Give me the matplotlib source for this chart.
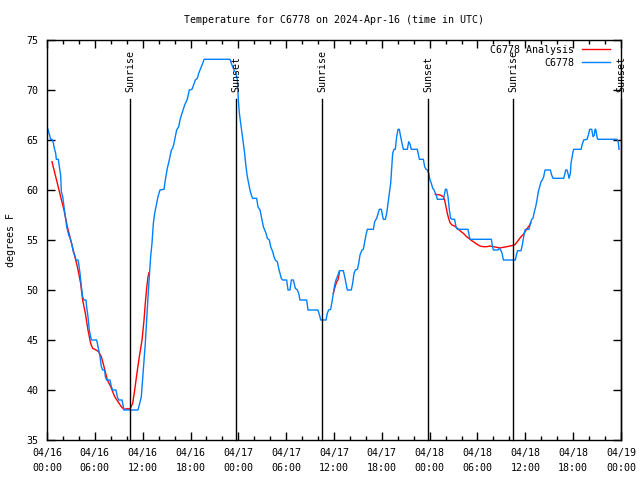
import matplotlib
matplotlib.use("Agg")
import matplotlib.pyplot as plt
import numpy as np

# hours since 2024-04-16 00:00 UTC
obs_hours = [
    0.05, 0.12, 0.46, 0.63, 0.79, 0.92, 1.09, 1.17, 1.42, 1.55, 1.71, 1.8,
    1.97, 2.13, 2.3, 2.47, 2.72, 2.97, 3.14, 3.3, 3.47, 3.64, 3.89, 3.97,
    4.14, 4.31, 4.47, 4.64, 4.89, 4.97, 5.14, 5.31, 5.47, 5.56, 6.23, 6.4,
    6.65, 6.82, 6.98, 7.23, 7.32, 7.48, 7.9, 8.07, 8.24, 8.65, 8.82, 8.99,
    9.41, 9.57, 9.66, 11.41, 11.58, 11.83, 11.99, 12.16, 12.33, 12.5, 12.67,
    12.84, 13.0, 13.17, 13.34, 13.51, 13.67, 13.92, 14.17, 14.68, 14.84,
    15.09, 15.34, 15.6, 15.76, 15.93, 16.1, 16.26, 16.52, 16.68, 16.93,
    17.27, 17.6, 17.85, 18.19, 18.61, 18.86, 19.03, 19.36, 19.53, 19.7,
    22.95, 23.2, 23.46, 23.71, 23.88, 24.0, 24.13, 24.29, 24.46, 24.63,
    24.79, 24.96, 25.13, 25.3, 25.46, 25.63, 25.8, 26.3, 26.46, 26.72,
    26.97, 27.14, 27.3, 27.47, 27.64, 27.89, 28.06, 28.31, 28.47, 28.64,
    28.89, 29.06, 29.23, 29.39, 29.56, 30.06, 30.23, 30.48, 30.65, 30.9,
    31.15, 31.4, 31.57, 31.73, 32.57, 32.74, 33.99, 34.24, 34.33, 35.0,
    35.16, 35.33, 35.58, 35.75, 35.92, 36.08, 36.25, 36.42, 36.58, 36.67,
    37.17, 37.34, 37.51, 37.67, 38.17, 38.34, 38.51, 38.68, 38.93, 39.1,
    39.26, 39.51, 39.68, 39.85, 40.01, 40.18, 40.94, 41.1, 41.35, 41.6,
    41.69, 41.94, 42.11, 42.19, 42.44, 42.61, 42.77, 42.94, 43.11, 43.19,
    43.36, 43.53, 43.69, 43.86, 44.03, 44.19, 44.36, 44.53, 44.7, 45.2,
    45.37, 45.53, 45.7, 46.45, 46.71, 47.21, 47.37, 47.54, 47.71, 47.88,
    48.04, 48.21, 48.38, 48.55, 48.71, 48.88, 48.96, 49.72, 49.88, 49.97,
    50.13, 50.3, 50.47, 50.63, 50.8, 51.13, 51.3, 51.47, 52.81, 52.98,
    53.06, 55.74, 55.9, 55.99, 56.57, 56.74, 56.91, 57.08, 57.25, 58.75,
    58.87, 59.04, 59.46, 59.62, 59.79, 59.96, 60.04, 60.46, 60.63, 60.8,
    60.96, 61.13, 61.3, 61.46, 61.63, 61.8, 61.97, 62.13, 62.3, 62.47,
    63.14, 63.3, 63.47, 64.81, 64.98, 65.06, 65.23, 65.4, 65.48, 65.65,
    65.73, 65.98, 66.07, 66.99, 67.15, 67.32, 67.74, 67.91, 68.07, 68.33,
    68.49, 68.66, 68.74, 68.83, 68.99, 69.08, 71.5, 71.67, 71.75,
]
obs_temp = [
    66.2, 66.07, 65.07, 65.07, 64.73, 64.17, 63.67, 63.07, 63.07, 62.33,
    61.5, 59.83, 59.33, 58.33, 57.33, 56.33, 55.5, 55.0, 54.5, 53.83, 53.5,
    53.0, 53.0, 52.67, 51.67, 50.33, 49.33, 49.0, 49.0, 48.33, 47.33, 46.0,
    45.33, 45.0, 45.0, 44.33, 43.33, 42.33, 42.0, 42.0, 41.33, 41.0, 41.0,
    40.33, 40.0, 40.0, 39.33, 39.0, 39.0, 38.33, 38.0, 38.0, 38.5, 39.33,
    41.0, 42.67, 44.67, 47.0, 49.33, 51.33, 53.33, 54.67, 56.67, 57.67,
    58.33, 59.33, 60.0, 60.07, 61.0, 62.17, 63.0, 64.0, 64.17, 64.67, 65.33,
    66.0, 66.33, 67.0, 67.67, 68.5, 69.07, 70.0, 70.07, 71.0, 71.17, 71.67,
    72.33, 72.67, 73.07, 73.07, 72.5, 72.0, 71.67, 71.0, 69.0, 67.67, 66.67,
    65.67, 64.67, 63.67, 62.33, 61.33, 60.67, 60.0, 59.5, 59.17, 59.17,
    58.33, 58.0, 57.0, 56.33, 56.0, 55.67, 55.17, 55.0, 54.33, 53.83, 53.33,
    53.0, 52.83, 52.17, 51.67, 51.17, 51.0, 51.0, 50.0, 50.0, 51.0, 51.0,
    50.17, 50.0, 49.67, 49.0, 49.0, 48.0, 48.0, 47.33, 47.0, 47.0, 47.67,
    48.0, 48.07, 48.83, 49.67, 50.5, 51.0, 51.33, 51.67, 51.93, 51.93,
    51.33, 50.67, 50.0, 50.0, 50.67, 51.67, 52.0, 52.07, 52.67, 53.5, 54.0,
    54.07, 54.83, 55.5, 56.07, 56.07, 56.83, 57.17, 57.83, 58.07, 58.07,
    57.33, 57.07, 57.07, 57.67, 58.67, 59.67, 60.67, 61.67, 63.67, 64.07,
    64.07, 65.33, 66.07, 66.07, 65.33, 64.67, 64.07, 64.07, 64.83, 64.6,
    64.07, 64.07, 63.07, 63.07, 62.33, 62.07, 62.0, 61.67, 61.0, 60.67,
    60.17, 60.0, 59.67, 59.33, 59.07, 59.07, 59.67, 60.07, 60.07, 59.33,
    58.0, 57.17, 57.07, 57.07, 56.33, 56.07, 56.07, 55.33, 55.07, 55.07,
    54.27, 54.0, 54.0, 54.17, 54.0, 53.67, 53.0, 53.0, 53.5, 53.93, 53.93,
    54.5, 55.33, 56.0, 56.07, 56.07, 56.67, 57.07, 57.17, 57.83, 58.33,
    59.0, 59.83, 60.33, 60.83, 61.0, 61.33, 62.0, 62.0, 61.5, 61.17, 61.17,
    61.67, 62.0, 62.0, 61.5, 61.17, 61.67, 62.67, 63.83, 64.07, 64.07, 64.6,
    65.0, 65.07, 65.5, 66.07, 66.07, 65.33, 65.5, 66.07, 66.07, 65.33,
    65.07, 65.07, 64.73, 64.07,
]

nan = float("nan")
ana_hours = [
    0.63, 0.88, 1.3, 1.71, 2.13, 2.55, 2.97, 3.39, 3.81, 4.22, 4.47, 4.81,
    5.14, 5.47, 5.73, 6.15, 6.48, 6.82, 7.15, 7.57, 7.99, 8.49, 8.91, 9.32,
    9.66, 10.08, 10.41, 10.75, 11.0, 11.25, 11.58, 11.92, 12.17, 12.33,
    12.5, 12.67, 12.79, nan,
    35.92, 36.08, 36.33, 36.5, 36.67, nan,
    48.71, 49.3, 49.72, 49.88, 50.05, 50.21, 50.38, 50.55, 50.8, 51.13,
    51.47, 51.8, 52.22, 52.64, 53.06, 53.47, 53.89, 54.31, 54.73, 55.15,
    55.57, 55.99, 56.4, 56.82, 57.24, 57.66, 58.08, 58.5, 58.7, 58.96,
    59.21, 59.46, 59.71, 59.96, 60.21, 60.46, 60.71,
]
ana_temp = [
    62.83, 62.0, 60.67, 59.33, 58.0, 56.33, 55.0, 53.67, 52.33, 50.67, 49.0,
    47.67, 46.0, 44.67, 44.17, 44.0, 43.83, 43.33, 42.33, 41.0, 40.33, 39.33,
    38.83, 38.33, 38.07, 38.13, 38.1, 38.67, 40.0, 41.5, 43.33, 45.0, 47.0,
    48.67, 50.17, 51.33, 51.73, nan,
    49.67, 50.17, 50.83, 51.0, 51.73, nan,
    59.57, 59.5, 59.33, 59.0, 58.33, 57.67, 57.17, 56.73, 56.5, 56.4, 56.17,
    55.93, 55.67, 55.33, 55.07, 54.83, 54.6, 54.4, 54.33, 54.33, 54.4, 54.33,
    54.27, 54.2, 54.27, 54.33, 54.4, 54.47, 54.53, 54.8, 55.07, 55.33, 55.53,
    55.8, 56.13, 56.4, 56.73,
]

sun_hours = [10.41, 23.72, 34.5, 47.78, 58.45, 72.0]
sun_labels = ["Sunrise", "Sunset", "Sunrise", "Sunset", "Sunrise", "Sunset"]

tick_hours = [0, 6, 12, 18, 24, 30, 36, 42, 48, 54, 60, 66, 72]
tick_labels = ["04/16\n00:00", "04/16\n06:00", "04/16\n12:00", "04/16\n18:00",
               "04/17\n00:00", "04/17\n06:00", "04/17\n12:00", "04/17\n18:00",
               "04/18\n00:00", "04/18\n06:00", "04/18\n12:00", "04/18\n18:00",
               "04/19\n00:00"]

plt.rcParams['font.family'] = ['DejaVu Sans Mono']
plt.rcParams['font.size'] = 7.2

fig = plt.figure(figsize=(6.4, 4.8), dpi=100)
ax = fig.add_axes([47 / 640, 40 / 480, 574 / 640, 400 / 480])

ax.plot(ana_hours, ana_temp, color='#ff0000', lw=1, label='C6778 Analysis')
ax.plot(obs_hours, obs_temp, color='#0080ff', lw=1, label='C6778')

for h, lab in zip(sun_hours, sun_labels):
    ax.plot([h, h], [35, 69.1], color='black', lw=1, clip_on=False)
    ax.text(h, 69.8, lab, rotation=90, ha='center', va='bottom',
            clip_on=False)

ax.set_xlim(0, 72)
ax.set_ylim(35, 75)
ax.set_xticks(tick_hours)
ax.set_xticklabels(tick_labels, linespacing=1.55)
ax.set_xticks(np.arange(0, 73, 2), minor=True)
ax.set_yticks(np.arange(35, 76, 5))
ax.tick_params(which='both', direction='in', top=True, right=True,
               width=1, pad=6)
ax.tick_params(which='major', length=6)
ax.tick_params(which='minor', length=3)
for s in ax.spines.values():
    s.set_linewidth(1)

ax.set_ylabel('degrees F', labelpad=7.5)
ax.set_title('Temperature for C6778 on 2024-Apr-16 (time in UTC)',
             fontsize=7.2, pad=12)

ax.legend(loc='upper right', bbox_to_anchor=(0.988, 0.998), frameon=False,
          markerfirst=False, handlelength=2.8, handletextpad=0.8,
          borderaxespad=0, labelspacing=0.3)

fig.savefig('out.png', dpi=100)
